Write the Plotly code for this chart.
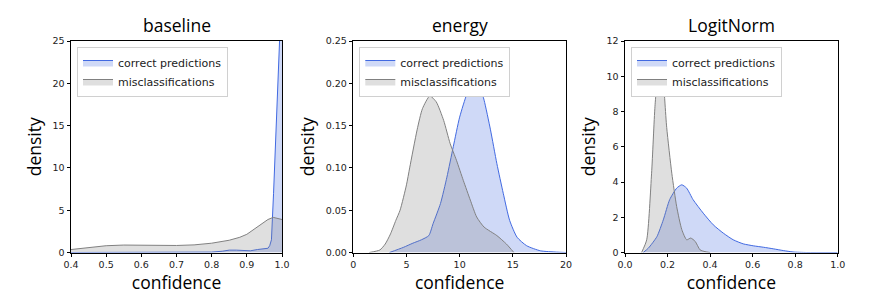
import plotly.graph_objects as go

# ---------------- data ----------------
base_cor_x = [0.40, 0.50, 0.60, 0.70, 0.75, 0.80, 0.83, 0.85, 0.87, 0.89, 0.91, 0.93, 0.95, 0.96, 0.965, 0.970, 0.976, 0.982, 0.988, 0.994, 1.000]
base_cor_y = [0.0, 0.0, 0.0, 0.0, 0.02, 0.05, 0.15, 0.28, 0.28, 0.2, 0.2, 0.35, 0.4, 0.5, 0.8, 1.5, 7.0, 14.0, 20.0, 26.0, 40.0]
base_mis_x = [0.40, 0.45, 0.50, 0.55, 0.60, 0.65, 0.70, 0.75, 0.80, 0.85, 0.88, 0.90, 0.92, 0.94, 0.96, 0.975, 0.99, 1.00]
base_mis_y = [0.35, 0.6, 0.8, 0.88, 0.85, 0.82, 0.83, 0.9, 1.1, 1.45, 1.8, 2.15, 2.7, 3.3, 3.9, 4.15, 4.05, 3.9]

en_cor_x = [3.4, 4.7, 5.6, 6.4, 7.1, 7.5, 8.2, 8.8, 9.4, 10.0, 10.7, 11.35, 12.0, 12.3, 12.9, 13.5, 14.1, 14.7, 15.4, 16.3, 17.6, 19.1, 20.0]
en_cor_y = [0.0, 0.006, 0.011, 0.015, 0.020, 0.034, 0.058, 0.089, 0.125, 0.160, 0.188, 0.204, 0.192, 0.180, 0.145, 0.105, 0.070, 0.038, 0.018, 0.008, 0.002, 0.0005, 0.0]
en_mis_x = [1.5, 2.5, 3.0, 3.5, 4.0, 4.4, 5.0, 5.3, 6.0, 6.5, 7.2, 7.8, 8.5, 9.1, 9.7, 10.35, 11.0, 11.6, 12.3, 13.5, 14.4, 15.1]
en_mis_y = [0.0, 0.003, 0.01, 0.022, 0.038, 0.05, 0.08, 0.10, 0.145, 0.17, 0.185, 0.178, 0.156, 0.129, 0.109, 0.085, 0.062, 0.042, 0.030, 0.020, 0.010, 0.0]

ln_cor_x = [0.086, 0.11, 0.15, 0.18, 0.21, 0.243, 0.267, 0.29, 0.32, 0.368, 0.415, 0.462, 0.509, 0.556, 0.603, 0.65, 0.697, 0.744, 0.79, 0.854, 1.0]
ln_cor_y = [0.0, 0.25, 0.9, 1.85, 3.0, 3.65, 3.84, 3.65, 3.0, 2.23, 1.57, 1.1, 0.72, 0.49, 0.38, 0.30, 0.21, 0.11, 0.03, 0.0, 0.0]
ln_mis_x = [0.078, 0.102, 0.125, 0.141, 0.157, 0.165, 0.177, 0.196, 0.22, 0.243, 0.267, 0.29, 0.309, 0.33, 0.353, 0.376, 0.40]
ln_mis_y = [0.0, 0.72, 4.5, 8.3, 10.5, 10.87, 10.2, 7.1, 4.5, 2.6, 1.3, 0.72, 0.82, 0.63, 0.15, 0.05, 0.0]

titles = ["baseline", "energy", "LogitNorm"]
x_ranges = [[0.4, 1.0], [0, 20], [0.0, 1.0]]
y_ranges = [[0, 25], [0, 0.25], [0, 12]]
x_ticks = [[0.4, 0.5, 0.6, 0.7, 0.8, 0.9, 1.0], [0, 5, 10, 15, 20], [0.0, 0.2, 0.4, 0.6, 0.8, 1.0]]
x_ticktext = [["0.4", "0.5", "0.6", "0.7", "0.8", "0.9", "1.0"], ["0", "5", "10", "15", "20"], ["0.0", "0.2", "0.4", "0.6", "0.8", "1.0"]]
y_ticks = [[0, 5, 10, 15, 20, 25], [0.0, 0.05, 0.10, 0.15, 0.20, 0.25], [0, 2, 4, 6, 8, 10, 12]]
y_ticktext = [["0", "5", "10", "15", "20", "25"], ["0.00", "0.05", "0.10", "0.15", "0.20", "0.25"], ["0", "2", "4", "6", "8", "10", "12"]]
series_names = ["correct predictions", "misclassifications"]

panels = [
    (base_cor_x, base_cor_y, base_mis_x, base_mis_y),
    (en_cor_x, en_cor_y, en_mis_x, en_mis_y),
    (ln_cor_x, ln_cor_y, ln_mis_x, ln_mis_y),
]

# ---------------- styling ----------------
W, H = 880, 308
x_px = [(71, 282), (353.3, 566), (625, 837.7)]
y_px = (41, 252.5)
BLUE = "rgb(65,105,225)"
BLUE_F = "rgba(65,105,225,0.25)"
GREY = "rgb(128,128,128)"
GREY_F = "rgba(128,128,128,0.25)"
TITLE_FONT = "Open Sans, sans-serif"
TICK_FONT = "DejaVu Sans, sans-serif"

fig = go.Figure()
layout = dict(width=W, height=H, margin=dict(l=0, r=0, t=0, b=0, autoexpand=False),
              plot_bgcolor="white", paper_bgcolor="white", annotations=[])

ydom = [1 - y_px[1] / H, 1 - y_px[0] / H]
for i, (cx, cy, mx, my) in enumerate(panels):
    k = "" if i == 0 else str(i + 1)
    leg = "legend" + k
    shape = "linear" if i == 0 else "spline"
    fig.add_trace(go.Scatter(x=cx, y=cy, mode="lines", fill="tozeroy", fillcolor=BLUE_F,
                             line=dict(color=BLUE, width=1, shape=shape, smoothing=0.6),
                             name=series_names[0], xaxis="x" + k, yaxis="y" + k, legend=leg))
    fig.add_trace(go.Scatter(x=mx, y=my, mode="lines", fill="tozeroy", fillcolor=GREY_F,
                             line=dict(color=GREY, width=1, shape=shape, smoothing=0.6),
                             name=series_names[1], xaxis="x" + k, yaxis="y" + k, legend=leg))
    xd = [x_px[i][0] / W, x_px[i][1] / W]
    axis_common = dict(showgrid=False, zeroline=False, showline=True, linecolor="black",
                       linewidth=1, mirror=True, ticks="outside", ticklen=3.5, tickwidth=0.8,
                       tickcolor="black", automargin=False,
                       tickfont=dict(family=TICK_FONT, size=9.5, color="#222"))
    layout["xaxis" + k] = dict(domain=xd, range=x_ranges[i], tickmode="array", tickvals=x_ticks[i],
                               ticktext=x_ticktext[i], anchor="y" + k,
                               title=dict(text="confidence", font=dict(family=TITLE_FONT, size=17.5, color="black"), standoff=7),
                               **axis_common)
    layout["yaxis" + k] = dict(domain=ydom, range=y_ranges[i], tickmode="array", tickvals=y_ticks[i],
                               ticktext=y_ticktext[i], anchor="x" + k,
                               title=dict(text="density", font=dict(family=TITLE_FONT, size=17.5, color="black"), standoff=6),
                               **axis_common)
    layout[leg] = dict(x=(x_px[i][0] + 6) / W, y=1 - 47 / H, xanchor="left", yanchor="top",
                       bgcolor="white", bordercolor="#d0d0d0", borderwidth=1,
                       font=dict(family=TICK_FONT, size=11, color="#222"),
                       itemwidth=30, tracegroupgap=0)
    layout["annotations"].append(dict(text=titles[i], xref="paper", yref="paper",
                                      x=(x_px[i][0] + x_px[i][1]) / 2 / W, y=1 - 25 / H,
                                      xanchor="center", yanchor="middle", showarrow=False,
                                      font=dict(family=TITLE_FONT, size=17.5, color="black")))

fig.update_layout(**layout)
fig.write_html("out.html", config={"displayModeBar": False},
               post_script="document.body.style.margin='0';document.body.style.overflow='hidden';")
